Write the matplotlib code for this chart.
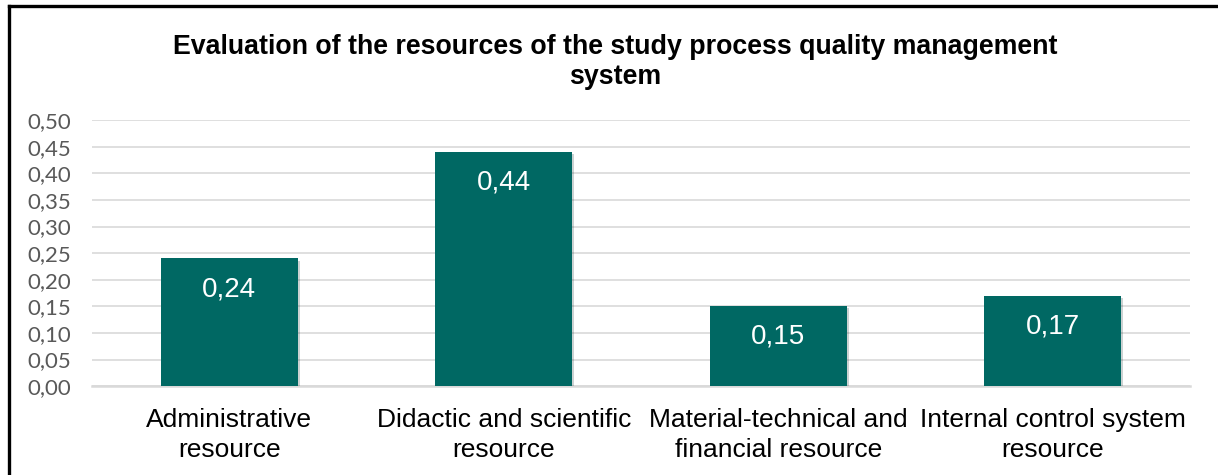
import matplotlib.pyplot as plt
import matplotlib.patheffects as pe
from matplotlib.lines import Line2D
from matplotlib.ticker import FuncFormatter
import numpy as np

# Resource groups and their evaluation scores
categories = ['Administrative\nresource',
              'Didactic and scientific\nresource',
              'Material-technical and\nfinancial resource',
              'Internal control system\nresource']
scores = [0.24, 0.44, 0.15, 0.17]
y_ticks = [0.00, 0.05, 0.10, 0.15, 0.20, 0.25, 0.30, 0.35, 0.40, 0.45, 0.50]

bar_color = '#006863'
grid_color = '#d9d9d9'

plt.rcParams['font.family'] = ['Liberation Sans', 'DejaVu Sans']

fig = plt.figure(figsize=(12.18, 4.75), dpi=100)
ax = fig.add_axes([0.0755, 0.187, 0.9015, 0.560])

x = np.arange(len(categories))
bars = ax.bar(x, scores, width=0.5, color=bar_color, zorder=3)
for b in bars:
    b.set_path_effects([pe.SimplePatchShadow(offset=(1.5, -1.5), alpha=0.2),
                        pe.Normal()])

# Value labels inside the top of each bar, comma as decimal separator
for xi, v in zip(x, scores):
    ax.annotate(f'{v:.2f}'.replace('.', ','), xy=(xi, v), xytext=(0, -22),
                textcoords='offset points', ha='center', va='center',
                color='white', fontsize=20, zorder=4)

ax.set_xlim(-0.5, len(categories) - 0.5)
ax.set_ylim(0, 0.5)
ax.set_yticks(y_ticks)
ax.yaxis.set_major_formatter(FuncFormatter(lambda v, p: f'{v:.2f}'.replace('.', ',')))
ax.set_xticks(x)
ax.set_xticklabels(categories, fontsize=19, linespacing=1.3)

ax.grid(axis='y', color=grid_color, linewidth=1.2, zorder=0)
for side in ['top', 'right', 'left']:
    ax.spines[side].set_visible(False)
ax.spines['bottom'].set_color(grid_color)
ax.spines['bottom'].set_linewidth(1.8)
ax.tick_params(axis='both', length=0)
ax.tick_params(axis='x', pad=16)
ax.tick_params(axis='y', pad=15, labelcolor='#595959')
for lbl in ax.get_yticklabels():
    lbl.set_fontfamily(['Lato', 'DejaVu Sans'])
    lbl.set_fontsize(16)

fig.text(0.505, 0.869, 'Evaluation of the resources of the study process quality management\nsystem',
         ha='center', va='center', fontsize=19.3, fontweight='bold', linespacing=1.2)

# Frame lines along the top and left edges
fig.add_artist(Line2D([0.0074, 1.0], [0.987, 0.987], color='black', linewidth=2.4))
fig.add_artist(Line2D([0.0074, 0.0074], [0.0, 0.987], color='black', linewidth=2.4))

fig.savefig('out.png', dpi=100)
